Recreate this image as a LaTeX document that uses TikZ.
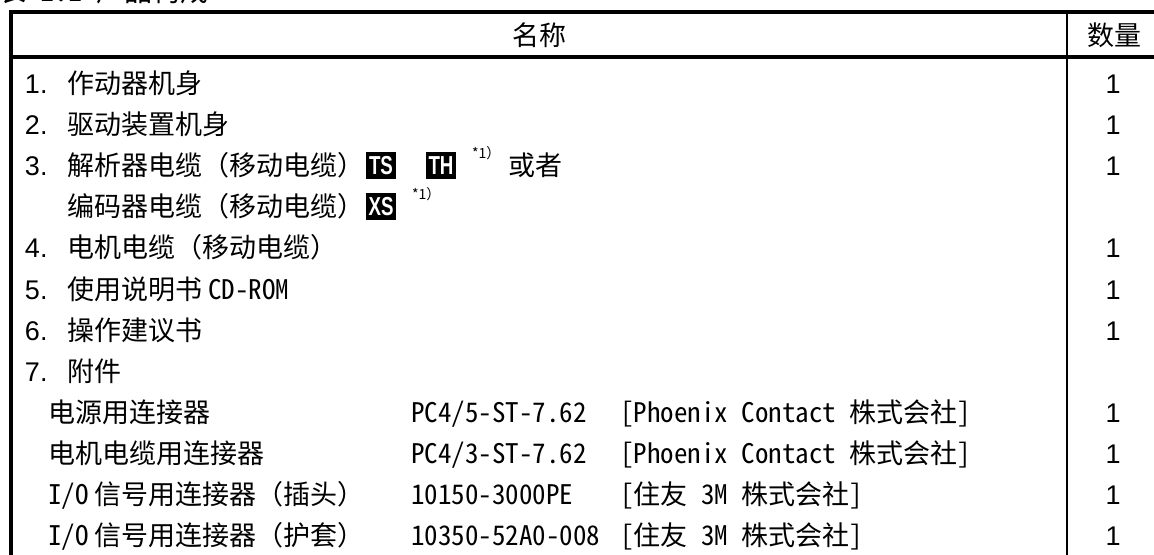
\documentclass[tikz,border=0pt]{standalone}
\usepackage{fontspec}
\setmainfont{Noto Sans CJK SC}
\newfontfamily\arialfont{Liberation Sans}
\newfontfamily\halffont[RawFeature=+hwid]{Noto Sans CJK SC}
\tikzset{
    every node/.style={inner sep=0pt, outer sep=0pt, text height=11.9pt, text depth=1.6pt,
        font=\fontsize{13.5pt}{16pt}\selectfont}
}
\tikzset{
    item/.style={anchor=west},
    num/.style={anchor=west, font=\fontsize{13.5pt}{16pt}\selectfont\arialfont},
    qty/.style={font=\fontsize{13.5pt}{16pt}\selectfont\arialfont},
    model/.style={anchor=west, font=\fontsize{13.5pt}{16pt}\selectfont\halffont},
    tag/.style={fill=black, text=white, minimum width=15pt, minimum height=13.5pt,
        text height=9pt, text depth=0pt, font=\fontsize{13pt}{13pt}\selectfont\arialfont\bfseries},
    note/.style={anchor=west, text height=5pt, text depth=0pt, font=\fontsize{7pt}{8pt}\selectfont},
    frame/.style={line width=2.2pt},
    rule/.style={line width=1.2pt}
}

\begin{document}
\begin{tikzpicture}[x=0.5pt, y=-0.5pt]
    \useasboundingbox (0,0) rectangle (1154,554);
    \clip (0,0) rectangle (1154,554);

    % title, cut by the page top
    \node (title) [anchor=base west, text height=11.9pt, text depth=1.6pt,
        font=\fontsize{14pt}{16pt}\selectfont\halffont] at (-2, 1) {表 1.1 产品构成};

    % table rules
    \draw[frame] (11, 12) -- (1170, 12);
    \draw[frame] (11, 10) -- (11, 570);
    \draw[frame] (11, 57) -- (1170, 57);
    \draw[rule] (1067, 12) -- (1067, 570);

    % header
    \node (hname) at (539, 35) {名称};
    \node (hqty) at (1114, 35) {数量};

    % items
    \node (n1) [num] at (25, 83) {1.};
    \node (i1) [item] at (67, 83) {作动器机身};
    \node (n2) [num] at (25, 124) {2.};
    \node (i2) [item] at (67, 124) {驱动装置机身};
    \node (n3) [num] at (25, 165) {3.};
    \node (i3) [item] at (67, 165) {解析器电缆（移动电缆）};
    \node (ts) [tag] at (381, 165) {\scalebox{0.72}[1]{TS}};
    \node (th) [tag] at (441, 165) {\scalebox{0.72}[1]{TH}};
    \node (n3a) [note] at (472, 153) {*1）};
    \node (or) [item] at (508, 165) {或者};
    \node (i3b) [item] at (67, 206) {编码器电缆（移动电缆）};
    \node (xs) [tag] at (381, 206) {\scalebox{0.72}[1]{XS}};
    \node (n3b) [note] at (412, 194) {*1）};
    \node (n4) [num] at (25, 247) {4.};
    \node (i4) [item] at (67, 247) {电机电缆（移动电缆）};
    \node (n5) [num] at (25, 289) {5.};
    \node (i5) [item] at (67, 289) {使用说明书 {\halffont CD-ROM}};
    \node (n6) [num] at (25, 330) {6.};
    \node (i6) [item] at (67, 330) {操作建议书};
    \node (n7) [num] at (25, 371) {7.};
    \node (i7) [item] at (67, 371) {附件};

    % accessories
    \node (a1) [item] at (48, 412) {电源用连接器};
    \node (m1) [model] at (411, 412) {PC4/5-ST-7.62};
    \node (c1) [model] at (620, 412) {［Phoenix Contact 株式会社］};
    \node (a2) [item] at (48, 453) {电机电缆用连接器};
    \node (m2) [model] at (411, 453) {PC4/3-ST-7.62};
    \node (c2) [model] at (620, 453) {［Phoenix Contact 株式会社］};
    \node (a3) [item] at (48, 494) {{\halffont I/O} 信号用连接器（插头）};
    \node (m3) [model] at (411, 494) {10150-3000PE};
    \node (c3) [model] at (620, 494) {［住友 3M 株式会社］};
    \node (a4) [item] at (48, 535) {{\halffont I/O} 信号用连接器（护套）};
    \node (m4) [model] at (411, 535) {10350-52A0-008};
    \node (c4) [model] at (620, 535) {［住友 3M 株式会社］};

    % quantities
    \node (q1) [qty] at (1113, 83) {1};
    \node (q2) [qty] at (1113, 124) {1};
    \node (q3) [qty] at (1113, 165) {1};
    \node (q4) [qty] at (1113, 247) {1};
    \node (q5) [qty] at (1113, 289) {1};
    \node (q6) [qty] at (1113, 330) {1};
    \node (q7) [qty] at (1113, 412) {1};
    \node (q8) [qty] at (1113, 453) {1};
    \node (q9) [qty] at (1113, 494) {1};
    \node (q10) [qty] at (1113, 535) {1};
\end{tikzpicture}
\end{document}
